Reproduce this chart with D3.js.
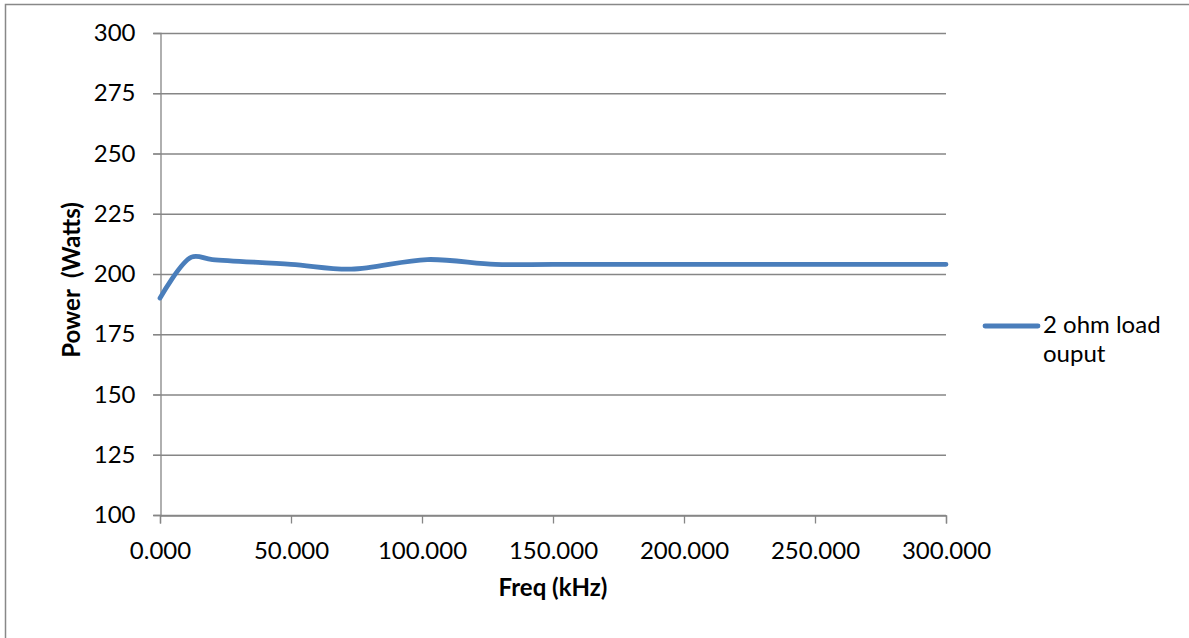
<!DOCTYPE html>
<html>
<head>
<meta charset="utf-8">
<script src="https://cdn.jsdelivr.net/npm/d3@7"></script>
<style>
  body { margin: 0; background: #fff; }
  svg text { font-family: Lato, "Open Sans", sans-serif; fill: #000; }
</style>
</head>
<body>
<div id="chart"></div>
<script>
// values
const freqKHz = [0, 12, 20, 50, 73, 102, 128, 150, 200, 250, 300];
const powerW  = [190, 207, 206, 204, 202, 206, 204, 204, 204, 204, 204];
const yTicks = [100, 125, 150, 175, 200, 225, 250, 275, 300];
const xTicks = [0, 50, 100, 150, 200, 250, 300];
const seriesName = ["2 ohm load", "ouput"];

const width = 1189, height = 638;
const plot = { left: 160, right: 946, top: 33, bottom: 515 };

const svg = d3.select("#chart").append("svg")
    .attr("width", width)
    .attr("height", height);

// chart border (right and bottom edges fall outside the picture)
svg.append("rect")
    .attr("x", 5.5).attr("y", 4.5)
    .attr("width", width + 10).attr("height", height + 10)
    .attr("fill", "none")
    .attr("stroke", "#888")
    .attr("stroke-width", 1.5);

const x = d3.scaleLinear().domain([0, 300]).range([plot.left, plot.right]);
const y = d3.scaleLinear().domain([100, 300]).range([plot.bottom, plot.top]);

// gridlines
svg.append("g")
    .selectAll("line")
    .data(yTicks)
    .join("line")
    .attr("x1", plot.left - 7).attr("x2", plot.right)
    .attr("y1", d => y(d) + 0.5).attr("y2", d => y(d) + 0.5)
    .attr("stroke", "#868686")
    .attr("stroke-width", 1.3);

// y axis
const yAxis = svg.append("g")
    .attr("transform", `translate(${plot.left + 0.5},0)`)
    .call(d3.axisLeft(y).tickValues(yTicks).tickSize(7).tickPadding(18));
yAxis.select(".domain").attr("stroke", "#868686").attr("stroke-width", 1.3);
yAxis.selectAll(".tick line").attr("stroke", "#868686");
yAxis.selectAll(".tick text").style("font-size", "24px").style("font-family", "Lato, sans-serif");

// x axis
const xAxis = svg.append("g")
    .attr("transform", `translate(0,${plot.bottom + 0.5})`)
    .call(d3.axisBottom(x).tickValues(xTicks).tickSize(8).tickPadding(18)
        .tickFormat(d3.format(".3f")));
xAxis.select(".domain").attr("stroke", "#868686").attr("stroke-width", 1.3);
xAxis.selectAll(".tick line").attr("stroke", "#868686").attr("stroke-width", 1.3);
xAxis.selectAll(".tick text").style("font-size", "24px").style("font-family", "Lato, sans-serif");

// axis titles
svg.append("text")
    .attr("x", x(150)).attr("y", 596)
    .attr("text-anchor", "middle")
    .style("font-size", "24px").style("font-weight", "bold")
    .text("Freq (kHz)");

svg.append("text")
    .attr("transform", "translate(80,280) rotate(-90)")
    .attr("text-anchor", "middle")
    .style("font-size", "24px").style("font-weight", "bold")
    .style("white-space", "pre")
    .attr("xml:space", "preserve")
    .text("Power  (Watts)");

// series line
const line = d3.line()
    .x((d, i) => x(freqKHz[i]))
    .y(d => y(d))
    .curve(d3.curveCatmullRom.alpha(0.5));

svg.append("path")
    .datum(powerW)
    .attr("d", line)
    .attr("fill", "none")
    .attr("stroke", "#4a7ebb")
    .attr("stroke-width", 4.8)
    .attr("stroke-linecap", "round");

// legend
const lg = svg.append("g").attr("transform", "translate(985,326)");
lg.append("line")
    .attr("x1", 0).attr("x2", 53)
    .attr("stroke", "#4a7ebb").attr("stroke-width", 4.8)
    .attr("stroke-linecap", "round");
lg.selectAll("text")
    .data(seriesName)
    .join("text")
    .attr("x", 58)
    .attr("y", (d, i) => 7 + i * 29)
    .style("font-size", "24px")
    .text(d => d);
</script>
</body>
</html>
